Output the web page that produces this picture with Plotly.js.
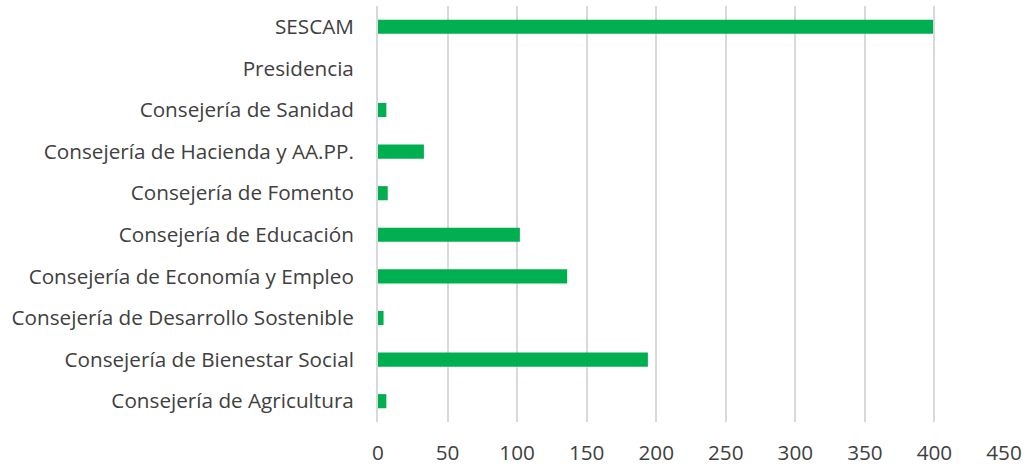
<!DOCTYPE html>
<html>
<head>
<meta charset="utf-8">
<script src="https://cdn.plot.ly/plotly-3.0.1.min.js"></script>
<style>html,body{margin:0;padding:0;background:#fff;}#chart{width:1027px;height:469px;}</style>
</head>
<body>
<div id="chart"></div>
<script>
const categories = [
  "Consejería de Agricultura",
  "Consejería de Bienestar Social",
  "Consejería de Desarrollo Sostenible",
  "Consejería de Economía y Empleo",
  "Consejería de Educación",
  "Consejería de Fomento",
  "Consejería de Hacienda y AA.PP.",
  "Consejería de Sanidad",
  "Presidencia",
  "SESCAM"
];
const values = [6, 194, 4, 136, 102, 7, 33, 6, 0, 399];
const xTicks = [0, 50, 100, 150, 200, 250, 300, 350, 400, 450];

const trace = {
  type: "bar",
  orientation: "h",
  y: categories,
  x: values,
  marker: {color: "#00B050"},
  hoverinfo: "x+y"
};

const fontFam = "Open Sans, Lato, sans-serif";
const fs = 20.7;
const layout = {
  width: 1027, height: 469,
  margin: {l: 378, r: 23, t: 6, b: 47, pad: 0},
  paper_bgcolor: "#ffffff",
  plot_bgcolor: "#ffffff",
  showlegend: false,
  bargap: 0.66,
  font: {family: fontFam, size: fs, color: "#404040"},
  xaxis: {
    range: [0, 450],
    tickvals: xTicks,
    ticktext: xTicks.map(String),
    showgrid: true,
    gridcolor: "#d9d9d9",
    gridwidth: 2,
    zeroline: false,
    showline: false,
    ticks: "",
    ticklabelstandoff: 16,
    tickfont: {family: fontFam, size: fs, color: "#404040"},
    fixedrange: true
  },
  yaxis: {
    type: "category",
    categoryorder: "array",
    categoryarray: categories,
    showgrid: false,
    zeroline: false,
    showline: true,
    linecolor: "#d9d9d9",
    linewidth: 2,
    ticks: "",
    ticklabelstandoff: 18,
    tickfont: {family: fontFam, size: fs, color: "#404040"},
    fixedrange: true
  }
};

Plotly.newPlot("chart", [trace], layout, {displayModeBar: false, staticPlot: true});
</script>
</body>
</html>
